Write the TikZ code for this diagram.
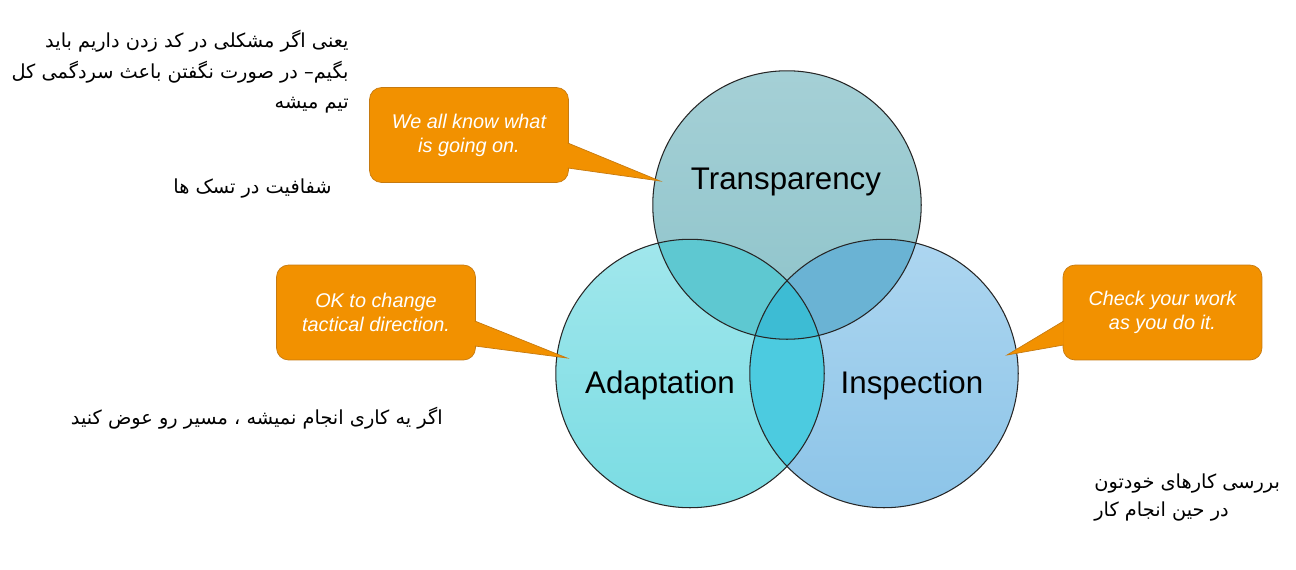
\documentclass[tikz,border=0pt]{standalone}
\usepackage{fontspec}
\setmainfont{Liberation Sans}
\newfontfamily\persianfont[Script=Arabic]{DejaVu Sans}
\TeXXeTstate=1
\usetikzlibrary{calc}

\definecolor{trtop}{HTML}{A5D0D6}
\definecolor{trbot}{HTML}{8DC3CA}
\definecolor{adtop}{HTML}{A1E7EC}
\definecolor{adbot}{HTML}{7ADCE3}
\definecolor{intop}{HTML}{ADD6F0}
\definecolor{inbot}{HTML}{8CC4E8}
\definecolor{adtr}{HTML}{5EC8D1}
\definecolor{intr}{HTML}{6AB3D4}
\definecolor{adin}{HTML}{4CCBE0}
\definecolor{allthree}{HTML}{3DBCD4}
\definecolor{boxfill}{HTML}{F29100}
\definecolor{boxedge}{HTML}{C67A10}

\begin{document}
\begin{tikzpicture}[x=0.02cm, y=-0.02cm, font=\fontsize{17.8}{21}\selectfont]
  \useasboundingbox (0,0) rectangle (1296,569);
  \tikzset{ring/.style={circle, draw=black!85, line width=0.6pt, minimum size=5.37cm, inner sep=0pt},
           ringtext/.style={anchor=base, inner sep=0pt},
           callbox/.style={fill=boxfill, draw=boxedge, line width=0.4pt, rounded corners=0.24cm,
                           minimum width=3.98cm, minimum height=1.9cm, align=center, text=white,
                           font=\fontsize{11.3}{13.8}\selectfont\itshape},
           callpin/.style={fill=boxfill, draw=boxedge, line width=0.4pt},
           note/.style={font=\persianfont\fontsize{11}{13}\selectfont, inner sep=0pt}}
  \def\rr{2.685cm}
  % ---- circle centres ----
  \coordinate (tr-c) at (787,205);
  \coordinate (ad-c) at (690,373.5);
  \coordinate (in-c) at (884,373.5);
  % ---- fills, then the overlaps ----
  \shade[top color=adtop, bottom color=adbot] (ad-c) circle[radius=\rr];
  \shade[top color=intop, bottom color=inbot] (in-c) circle[radius=\rr];
  \shade[top color=trtop, bottom color=trbot] (tr-c) circle[radius=\rr];
  \begin{scope}
    \clip (ad-c) circle[radius=\rr];
    \fill[adin] (in-c) circle[radius=\rr];
    \fill[adtr] (tr-c) circle[radius=\rr];
  \end{scope}
  \begin{scope}
    \clip (in-c) circle[radius=\rr];
    \fill[intr] (tr-c) circle[radius=\rr];
    \clip (ad-c) circle[radius=\rr];
    \fill[allthree] (tr-c) circle[radius=\rr];
  \end{scope}
  % ---- outlines and names ----
  \node[ring] (adapt) at (ad-c) {};
  \node[ring] (insp) at (in-c) {};
  \node[ring] (transp) at (tr-c) {};
  \node[ringtext] (transp-l) at (786,189) {Transparency};
  \node[ringtext] (adapt-l) at (660,393) {Adaptation};
  \node[ringtext] (insp-l) at (912,393) {Inspection};
  % ---- callouts ----
  \node[callbox] (tr-box) at (469,135) {We all know what\\is going on.};
  \node[callbox] (ad-box) at (376,312.5) {OK to change\\tactical direction.};
  \node[callbox] (in-box) at (1162.5,312.5) {Check your work\\as you do it.};
  \coordinate (tr-tip) at (660,181);
  \coordinate (ad-tip) at (567,358);
  \coordinate (in-tip) at (1007,355);
  \path[callpin] ($(tr-box.east)+(-1,8)$) -- (tr-tip) -- ($(tr-box.east)+(-1,33)$);
  \path[callpin] ($(ad-box.east)+(-1,8.5)$) -- (ad-tip) -- ($(ad-box.east)+(-1,33.5)$);
  \path[callpin] ($(in-box.west)+(1,8.5)$) -- (in-tip) -- ($(in-box.west)+(1,32.5)$);
  % ---- persian notes ----
  \foreach \n/\x/\y/\a/\t in {
    1/349/47/base east/{یعنی اگر مشکلی در کد زدن داریم باید},
    2/349/78/base east/{بگیم– در صورت نگفتن باعث سردگمی کل},
    3/349/108/base east/{تیم میشه},
    4/332/193/base east/{شفافیت در تسک ها},
    5/443/424/base east/{اگر یه کاری انجام نمیشه ، مسیر رو عوض کنید},
    6/1094/488/base west/{بررسی کارهای خودتون},
    7/1094/516/base west/{در حین انجام کار}} {
    \node[note, anchor=\a] (note-\n) at (\x,\y) {\beginR\t\endR};
  }
\end{tikzpicture}
\end{document}
